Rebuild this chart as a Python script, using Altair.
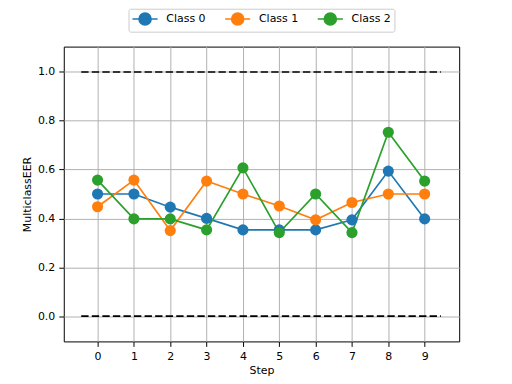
import altair as alt
import pandas as pd

steps = [0, 1, 2, 3, 4, 5, 6, 7, 8, 9]
class_names = ["Class 0", "Class 1", "Class 2"]
class0 = [0.50, 0.50, 0.446, 0.40, 0.353, 0.353, 0.353, 0.394, 0.594, 0.398]
class1 = [0.448, 0.557, 0.35, 0.553, 0.50, 0.451, 0.394, 0.465, 0.50, 0.50]
class2 = [0.557, 0.398, 0.398, 0.353, 0.607, 0.342, 0.50, 0.342, 0.753, 0.553]
colors = ["#1f77b4", "#ff7f0e", "#2ca02c"]

hline_y = [0.0, 1.0]
hline_x_start = -0.45
hline_x_end = 9.45

rows = []
for name, vals in zip(class_names, [class0, class1, class2]):
    for s, v in zip(steps, vals):
        rows.append({"Step": s, "value": v, "cls": name})
df = pd.DataFrame(rows)
hdf = pd.DataFrame({"y": hline_y, "x": [hline_x_start] * 2, "x2": [hline_x_end] * 2})

xscale = alt.Scale(domain=[-0.93, 9.95], nice=False, zero=False)
yscale = alt.Scale(domain=[-0.104, 1.104], nice=False, zero=False)

legend_path = "M-1,0L3.2,0M0.1,0A1,1,0,1,1,2.1,0A1,1,0,1,1,0.1,0Z"

color = alt.Color(
    "cls:N",
    scale=alt.Scale(domain=class_names, range=colors),
    legend=alt.Legend(
        title=None,
        orient="none",
        direction="horizontal",
        legendX=65,
        legendY=-38,
        symbolType=legend_path,
        symbolSize=144,
        symbolStrokeWidth=1.7,
        symbolOpacity=1,
        labelFontSize=11,
        labelFont="DejaVu Sans",
        labelColor="#000000",
        labelOffset=21,
        columnPadding=15,
        padding=3,
        strokeColor="#cccccc",
        fillColor="#ffffff",
        cornerRadius=2,
    ),
)

xaxis = alt.Axis(values=steps, title="Step", format="d")
yaxis = alt.Axis(values=[0.0, 0.2, 0.4, 0.6, 0.8, 1.0], title="MulticlassEER", format=".1f")

hlines = alt.Chart(hdf).mark_rule(color="#000000", strokeDash=[7.4, 3.2], strokeWidth=1.7).encode(
    x=alt.X("x:Q", scale=xscale, axis=xaxis),
    x2="x2:Q",
    y=alt.Y("y:Q", scale=yscale, axis=yaxis),
)

lines = alt.Chart(df).mark_line(strokeWidth=1.7).encode(
    x=alt.X("Step:Q", scale=xscale, axis=xaxis),
    y=alt.Y("value:Q", scale=yscale, axis=yaxis),
    color=color,
    detail="cls:N",
)

points = alt.Chart(df).mark_point(filled=True, size=125, opacity=1).encode(
    x=alt.X("Step:Q", scale=xscale, axis=xaxis),
    y=alt.Y("value:Q", scale=yscale, axis=yaxis),
    color=color,
)

chart = alt.layer(hlines, lines, points).properties(
    width=397,
    height=296,
    autosize=alt.AutoSizeParams(type="none"),
    padding={"left": 56, "top": 38, "right": 45, "bottom": 40},
).configure_view(
    stroke="#000000", strokeWidth=1
).configure_axis(
    grid=True,
    gridColor="#b0b0b0",
    gridWidth=1,
    domain=False,
    tickColor="#000000",
    tickSize=5,
    tickWidth=1,
    labelFont="DejaVu Sans",
    labelFontSize=11,
    labelColor="#000000",
    labelPadding=4,
    titleFont="DejaVu Sans",
    titleFontSize=11,
    titleFontWeight="normal",
    titleColor="#000000",
).configure_axisY(
    titlePadding=5
).configure_axisX(
    titlePadding=3
)

chart.save("out.html", embed_options={"renderer": "svg", "actions": False})
